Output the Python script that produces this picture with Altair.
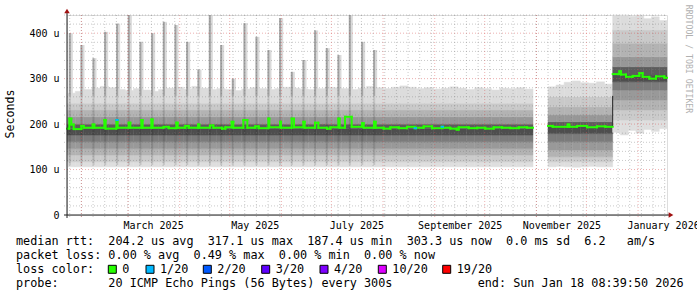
import altair as alt
import pandas as pd
from datetime import datetime, timezone, timedelta

# ---------------- time frame ----------------
START = datetime(2025, 1, 23, 8, 39, 50, tzinfo=timezone.utc)
SPAN_DAYS = 360
DAY_MS = 86_400_000
T0 = int(START.timestamp() * 1000)
T1 = T0 + SPAN_DAYS * DAY_MS


def ms(day):
    return T0 + day * DAY_MS


# ---------------- data ----------------
# days since START; values in microseconds
ab_span = [0.0, 279.6]
ab_tops = [268, 272, 276, 279, 283, 280, 276, 274, 278, 275, 272, 276, 279, 281,
           277, 283, 279, 276, 278, 276, 274, 277, 280, 278, 276, 278, 281, 279,
           277, 276, 278, 281, 280, 278, 276, 279, 283, 280, 278, 281, 284, 281,
           278, 280, 277, 279, 282, 279, 276, 280, 278, 275, 279, 278, 280, 277]
ab_floors = [106] * len(ab_tops)
ab_profile = [117, 132, 146, 161, 176, 190, 200, 216, 231, 246]

c_span = [288.6, 327.4]
c_tops = [282, 286, 292, 295, 291, 290, 293, 288]
c_floors = [106, 107, 106, 105, 106, 107, 106, 106]
c_profile = [117, 128, 143, 161, 179, 194, 205, 220, 238, 260]

d_span = [327.4, 360.0]
d_tops = [440, 440, 437, 440, 432, 436, 428]
d_floors = [182, 176, 186, 180, 188, 184, 190]
d_profile = [209, 231, 253, 275, 293, 308, 326, 348, 378, 407]

band_grays = ['#dedede', '#cbcbcb', '#b3b3b3', '#999999', '#7b7b7b', '#4e4e4e',
              '#5c5c5c', '#979797', '#b3b3b3', '#c9c9c9', '#dcdcdc']

# weekly latency spikes (day, top value)
spike_day = [1.4, 8.4, 15.6, 22.6, 29.8, 36.8, 43.8, 50.8, 57.8, 64.8, 71.8, 78.6,
             85.4, 92.2, 99.2, 106.2, 113.4, 120.6, 127.6, 134.6, 141.6, 148.6,
             155.6, 162.6, 169.4, 176.8, 184.0]
spike_top = [400, 374, 345, 403, 421, 440, 381, 400, 425, 418, 381, 320,
             440, 374, 300, 422, 392, 363, 433, 315, 341, 406, 367, 352, 440, 381, 363]

# median rtt, step series (change points)
med_ab_day = [0, 1.4, 2.6, 4.0, 8.6, 10.0, 15.4, 16.4, 22.4, 23.2, 29.6, 30.4, 37.0,
              38.0, 44.6, 45.4, 50.6, 51.4, 58.0, 61.0, 65.6, 66.4, 71.0, 73.0, 78.6,
              79.4, 85.8, 87.8, 93.0, 95.0, 98.8, 99.8, 105.8, 108.2, 113.0, 115.0,
              120.8, 121.4, 127.8, 128.4, 134.8, 136.2, 141.8, 142.6, 148.8, 150.8,
              156.0, 158.0, 162.8, 163.6, 166.8, 170.8, 177.0, 178.0, 184.2, 185.2,
              190.0, 194.0, 199.0, 204.0, 208.6, 209.4, 214.0, 219.0, 224.8, 225.6,
              230.0, 233.8, 235.0, 241.0, 246.0, 251.0, 256.0, 261.0, 266.0, 271.0, 276.0]
med_ab_val = [190, 212, 199, 189, 196, 192, 199, 192, 209, 190, 209, 192, 203,
              192, 209, 192, 210, 192, 194, 191, 203, 192, 196, 192, 199,
              192, 197, 192, 190, 193, 205, 192, 209, 192, 195, 191,
              212, 193, 205, 192, 212, 193, 205, 192, 203, 192,
              190, 193, 212, 192, 216, 194, 202, 192, 205, 192,
              190, 193, 191, 194, 191, 192, 195, 191, 194, 192,
              190, 188, 193, 191, 192, 190, 193, 192, 191, 193, 192]
med_c_day = [288.6, 291.4, 300.4, 301.4, 306.0, 312.0, 318.0, 323.0]
med_c_val = [196, 194, 199, 194, 196, 193, 195, 194]
med_d_day = [327.4, 331.4, 332.4, 335.4, 339.4, 343.4, 345.4, 349.4, 353.4, 358.4]
med_d_val = [310, 316, 309, 304, 306, 312, 304, 300, 305, 302]

# median points with 1/20 loss
loss_from = [29.6, 208.6, 224.8]
loss_to = [30.4, 209.4, 225.6]
loss_val = [209, 191, 194]

# jump connector between periods
jump_day = 327.4
jump_lo, jump_hi = 194, 262

# legend
loss_labels = ['0', '1/20', '2/20', '3/20', '4/20', '10/20', '19/20']
loss_colors = ['#26ff00', '#00b8ff', '#0059ff', '#5e00ff', '#7e00ff', '#dd00ff', '#ff0000']
loss_box_x = [108.3, 146.0, 203.3, 261.7, 320.0, 378.3, 442.7]

NB = '\u00a0'
legend_lines = [
    "median rtt:  204.2 us avg  317.1 us max  187.4 us min  303.3 us now  0.0 ms sd  6.2   am/s",
    "packet loss: 0.00 % avg  0.49 % max  0.00 % min  0.00 % now",
    "loss color:",
    "probe:       20 ICMP Echo Pings (56 Bytes) every 300s            end: Sun Jan 18 08:39:50 2026",
]

# ---------------- build tables ----------------
smoke = []


def add_period(span, tops, floors, profile):
    n = len(tops)
    w = (span[1] - span[0]) / n
    for i in range(n):
        edges = [floors[i]] + profile + [tops[i]]
        for k in range(len(edges) - 1):
            smoke.append(dict(t0=ms(span[0] + i * w), t1=ms(span[0] + (i + 1) * w),
                              lo=edges[k], hi=edges[k + 1], col=band_grays[k]))


add_period(ab_span, ab_tops, ab_floors, ab_profile)
add_period(c_span, c_tops, c_floors, c_profile)
add_period(d_span, d_tops, d_floors, d_profile)
smoke_df = pd.DataFrame(smoke)

spk_df = pd.DataFrame(dict(
    a=[ms(d - 0.3) for d in spike_day],
    b=[ms(d + 0.9) for d in spike_day],
    c=[ms(d + 2.1) for d in spike_day],
    top=spike_top,
))

hz, vt = [], []


def add_median(days, vals, end):
    for i, (d, v) in enumerate(zip(days, vals)):
        d2 = days[i + 1] if i + 1 < len(days) else end
        hz.append(dict(t0=ms(d), t1=ms(d2), v=v))
        if i + 1 < len(days):
            vt.append(dict(t=ms(d2), v0=v, v1=vals[i + 1]))


add_median(med_ab_day, med_ab_val, ab_span[1])
add_median(med_c_day, med_c_val, c_span[1])
add_median(med_d_day, med_d_val, d_span[1])
hz_df = pd.DataFrame(hz)
vt_df = pd.DataFrame(vt)
loss_df = pd.DataFrame(dict(t0=[ms(d) for d in loss_from], t1=[ms(d) for d in loss_to], v=loss_val))
jump_df = pd.DataFrame(dict(t=[ms(jump_day)], v0=[jump_lo], v1=[jump_hi]))

# grid
month_starts = [datetime(2025, m, 1, tzinfo=timezone.utc) for m in range(2, 13)] + \
               [datetime(2026, 1, 1, tzinfo=timezone.utc)]
major_v = pd.DataFrame(dict(t=[int(d.timestamp() * 1000) for d in month_starts]))
wk = []
d = datetime(2025, 1, 25, tzinfo=timezone.utc)
while d.timestamp() * 1000 < T1:
    wk.append(int(d.timestamp() * 1000))
    d += timedelta(days=7)
minor_v = pd.DataFrame(dict(t=wk))
minor_h = pd.DataFrame(dict(v=[v for v in range(20, 441, 20) if v % 100]))
major_h = pd.DataFrame(dict(v=[100, 200, 300, 400]))

label_dates = [alt.DateTime(year=y, month=m, date=16, utc=True)
               for (y, m) in [(2025, 3), (2025, 5), (2025, 7), (2025, 9), (2025, 11), (2026, 1)]]

# ---------------- encodings ----------------
MONO = 'DejaVu Sans Mono'
XS = alt.Scale(type='utc', domain=[T0, T1], nice=False)
YS = alt.Scale(domain=[0, 440], nice=False, zero=True)
XA = alt.Axis(values=label_dates, labelExpr="utcFormat(datum.value, '%B %Y')", title=None,
              grid=False, ticks=False, domain=False, labelFont=MONO, labelFontSize=10,
              labelColor='#000', labelBaseline='alphabetic', labelPadding=13,
              labelAlign='center', labelFlush=False, labelOverlap=False, labelBound=False)
YA = alt.Axis(values=[0, 100, 200, 300, 400], title=None, grid=False, ticks=False, domain=False,
              labelExpr="datum.value == 0 ? '0" + NB + NB + "' : datum.value + '" + NB + "u'",
              labelFont=MONO, labelFontSize=10, labelColor='#000', labelPadding=8,
              labelAlign='right', labelBaseline='middle')


def X(f):
    return alt.X(f, type='temporal', scale=XS, axis=XA)


def Y(f):
    return alt.Y(f, type='quantitative', scale=YS, axis=YA)


smoke_layer = alt.Chart(smoke_df).mark_rect(strokeWidth=0.5).encode(
    x=X('t0'), x2='t1', y=Y('lo'), y2='hi',
    fill=alt.Fill('col:N', scale=None), stroke=alt.Stroke('col:N', scale=None))

spike_halo = alt.Chart(spk_df).mark_rect(color='#dadada').encode(
    x=X('b'), x2='c', y=Y('top'), y2=alt.datum(262))
spike_core = alt.Chart(spk_df).mark_rect(color='#a4a4a4').encode(
    x=X('a'), x2='b', y=Y('top'), y2=alt.datum(262))
spike_in = alt.Chart(spk_df).mark_rect(color='#000', opacity=0.12).encode(
    x=X('a'), x2='b', y=Y('top'), y2=alt.datum(110))

DASH = [1, 2]
MINC = 'rgba(120,120,120,0.4)'
MAJC = 'rgba(215,80,80,0.45)'
g_minor_v = alt.Chart(minor_v).mark_rule(color=MINC, strokeDash=DASH).encode(
    x=X('t'), y=alt.value(0), y2=alt.value(203))
g_minor_h = alt.Chart(minor_h).mark_rule(color=MINC, strokeDash=DASH).encode(
    y=Y('v'), x=alt.value(-3), x2=alt.value(600))
g_major_v = alt.Chart(major_v).mark_rule(color=MAJC, strokeDash=DASH).encode(
    x=X('t'), y=alt.value(0), y2=alt.value(203))
g_major_h = alt.Chart(major_h).mark_rule(color=MAJC, strokeDash=DASH).encode(
    y=Y('v'), x=alt.value(-3), x2=alt.value(600))

med_h = alt.Chart(hz_df).mark_rule(color='#26ff00', strokeWidth=2, strokeCap='square').encode(
    x=X('t0'), x2='t1', y=Y('v'))
med_v = alt.Chart(vt_df).mark_rule(color='#26ff00', strokeWidth=2, strokeCap='square').encode(
    x=X('t'), y=Y('v0'), y2='v1')
loss_h = alt.Chart(loss_df).mark_rule(color='#00b8ff', strokeWidth=2, strokeCap='square').encode(
    x=X('t0'), x2='t1', y=Y('v'))
jump = alt.Chart(jump_df).mark_rule(color='#222', strokeWidth=1).encode(
    x=X('t'), y=Y('v0'), y2='v1')

axis_x = alt.Chart(pd.DataFrame({'a': [0]})).mark_rule(color='#202020').encode(
    x=alt.value(-3), x2=alt.value(602), y=alt.value(200))
axis_y = alt.Chart(pd.DataFrame({'a': [0]})).mark_rule(color='#202020').encode(
    x=alt.value(0), y=alt.value(203), y2=alt.value(-3))
arrow_up = alt.Chart(pd.DataFrame({'a': [0]})).mark_point(
    shape='triangle-up', filled=True, color='#a01010', size=30, opacity=1).encode(
    x=alt.value(0), y=alt.value(-4))
arrow_rt = alt.Chart(pd.DataFrame({'a': [0]})).mark_point(
    shape='triangle-right', filled=True, color='#a01010', size=30, opacity=1).encode(
    x=alt.value(604), y=alt.value(200))

# legend texts (pixel layout relative to plot origin at 67,15)
OX, OY = 67, 15
LEG_FS = 11.8
base_y = [245, 259, 273, 286.8]
txt_rows = [dict(tx=16 - OX, ty=base_y[i] - OY, s=l.replace(' ', NB)) for i, l in enumerate(legend_lines)]
for bx, lab in zip(loss_box_x, loss_labels):
    txt_rows.append(dict(tx=bx + 14 - OX, ty=base_y[2] - OY, s=lab))
txt_df = pd.DataFrame(txt_rows)
legend_text = alt.Chart(txt_df).mark_text(
    font=MONO, fontSize=LEG_FS, align='left', baseline='alphabetic', color='#000').encode(
    x=alt.X('tx:Q', scale=None), y=alt.Y('ty:Q', scale=None), text='s:N')

box_df = pd.DataFrame(dict(bx=[b - OX for b in loss_box_x], bx2=[b + 8 - OX for b in loss_box_x],
                           c=loss_colors))
legend_boxes = alt.Chart(box_df).mark_rect(stroke='#000', strokeWidth=1).encode(
    x=alt.X('bx:Q', scale=None), x2='bx2', y=alt.value(265.3 - OY), y2=alt.value(273.3 - OY),
    fill=alt.Fill('c:N', scale=None))

ytitle = alt.Chart(pd.DataFrame({'s': ['Seconds']})).mark_text(
    font=MONO, fontSize=11.6, angle=270, align='center', baseline='middle', color='#000').encode(
    x=alt.value(11 - OX), y=alt.value(114 - OY), text='s:N')
watermark = alt.Chart(pd.DataFrame({'s': ['RRDTOOL / TOBI OETIKER']})).mark_text(
    font=MONO, fontSize=8.2, angle=90, align='center', baseline='middle', color='#b0b0b0').encode(
    x=alt.value(688.3 - OX), y=alt.value(59 - OY), text='s:N')

chart = alt.layer(
    smoke_layer, spike_in, spike_halo, spike_core,
    g_minor_v, g_minor_h, g_major_v, g_major_h,
    jump, med_v, med_h, loss_h,
    axis_x, axis_y, arrow_up, arrow_rt,
    legend_boxes, legend_text, ytitle, watermark,
).properties(
    width=600, height=200,
    padding={'left': 67, 'top': 15, 'right': 30, 'bottom': 82},
    autosize=alt.AutoSizeParams(type='none'),
).configure_view(stroke=None).configure(background='white')

chart.save('out.html', embed_options={'renderer': 'svg', 'actions': False})
